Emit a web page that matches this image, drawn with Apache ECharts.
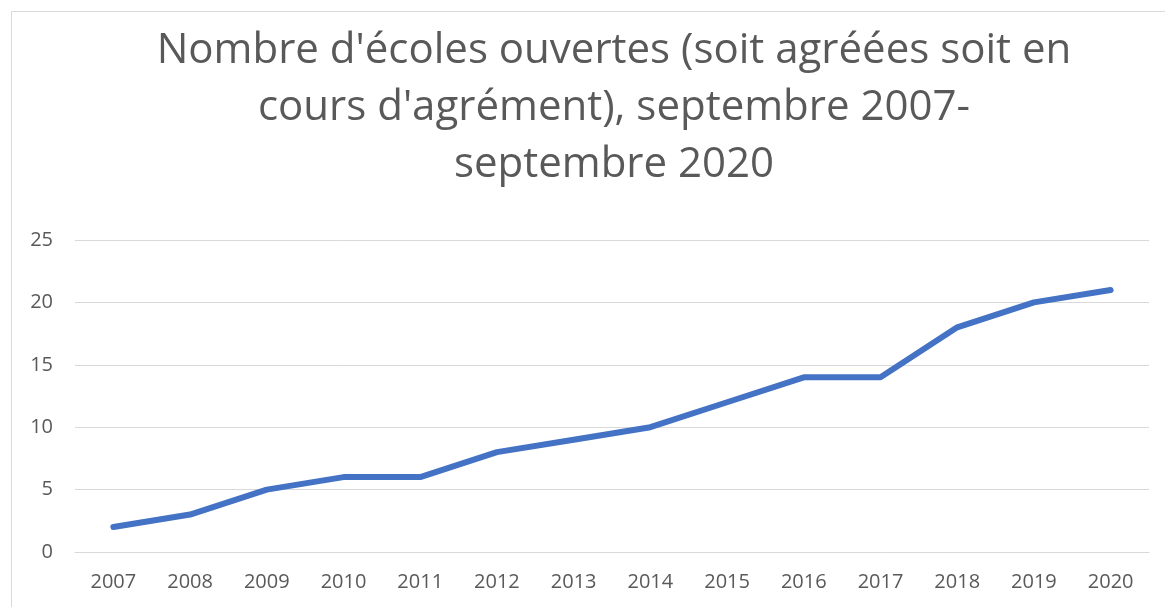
<!DOCTYPE html>
<html>
<head>
<meta charset="utf-8">
<script src="https://cdn.jsdelivr.net/npm/echarts@6/dist/echarts.min.js"></script>
<style>
  html, body { margin: 0; padding: 0; background: #fff; }
  #chart { width: 1165px; height: 607px; }
</style>
</head>
<body>
<div id="chart"></div>
<script>
var years = ['2007','2008','2009','2010','2011','2012','2013','2014','2015','2016','2017','2018','2019','2020'];
var ecoles = [2, 3, 5, 6, 6, 8, 9, 10, 12, 14, 14, 18, 20, 21];
var titleLines = [
  "Nombre d'écoles ouvertes (soit agréées soit en",
  "cours d'agrément), septembre 2007-",
  "septembre 2020"
];

var chart = echarts.init(document.getElementById('chart'));
var grey = '#595959';
chart.setOption({
  animation: false,
  backgroundColor: '#fff',
  graphic: [{
    type: 'rect',
    shape: { x: 11.5, y: 11.5, width: 1200, height: 700 },
    style: { fill: 'none', stroke: '#d9d9d9', lineWidth: 1 },
    silent: true
  }, {
    type: 'text',
    x: 614, y: 23,
    style: {
      text: titleLines.join('\n'),
      align: 'center',
      verticalAlign: 'top',
      font: 'normal 42px "Open Sans"',
      fill: grey,
      lineHeight: 57
    },
    silent: true
  }],
  grid: { left: 75, right: 16, top: 240, bottom: 55, containLabel: false },
  xAxis: {
    type: 'category',
    data: years,
    boundaryGap: true,
    axisLine: { show: true, lineStyle: { color: '#d9d9d9', width: 1 } },
    axisTick: { show: false },
    axisLabel: { color: grey, fontSize: 20, fontFamily: 'Open Sans', margin: 20 }
  },
  yAxis: {
    type: 'value',
    min: 0, max: 25, interval: 5,
    axisLine: { show: false },
    axisTick: { show: false },
    splitLine: { lineStyle: { color: '#d9d9d9', width: 1 } },
    axisLabel: { color: grey, fontSize: 20, fontFamily: 'Open Sans', margin: 22, align: 'right' }
  },
  series: [{
    type: 'line',
    data: ecoles,
    symbol: 'none',
    lineStyle: { color: '#4472C4', width: 6, cap: 'round', join: 'round' }
  }]
});
</script>
</body>
</html>
